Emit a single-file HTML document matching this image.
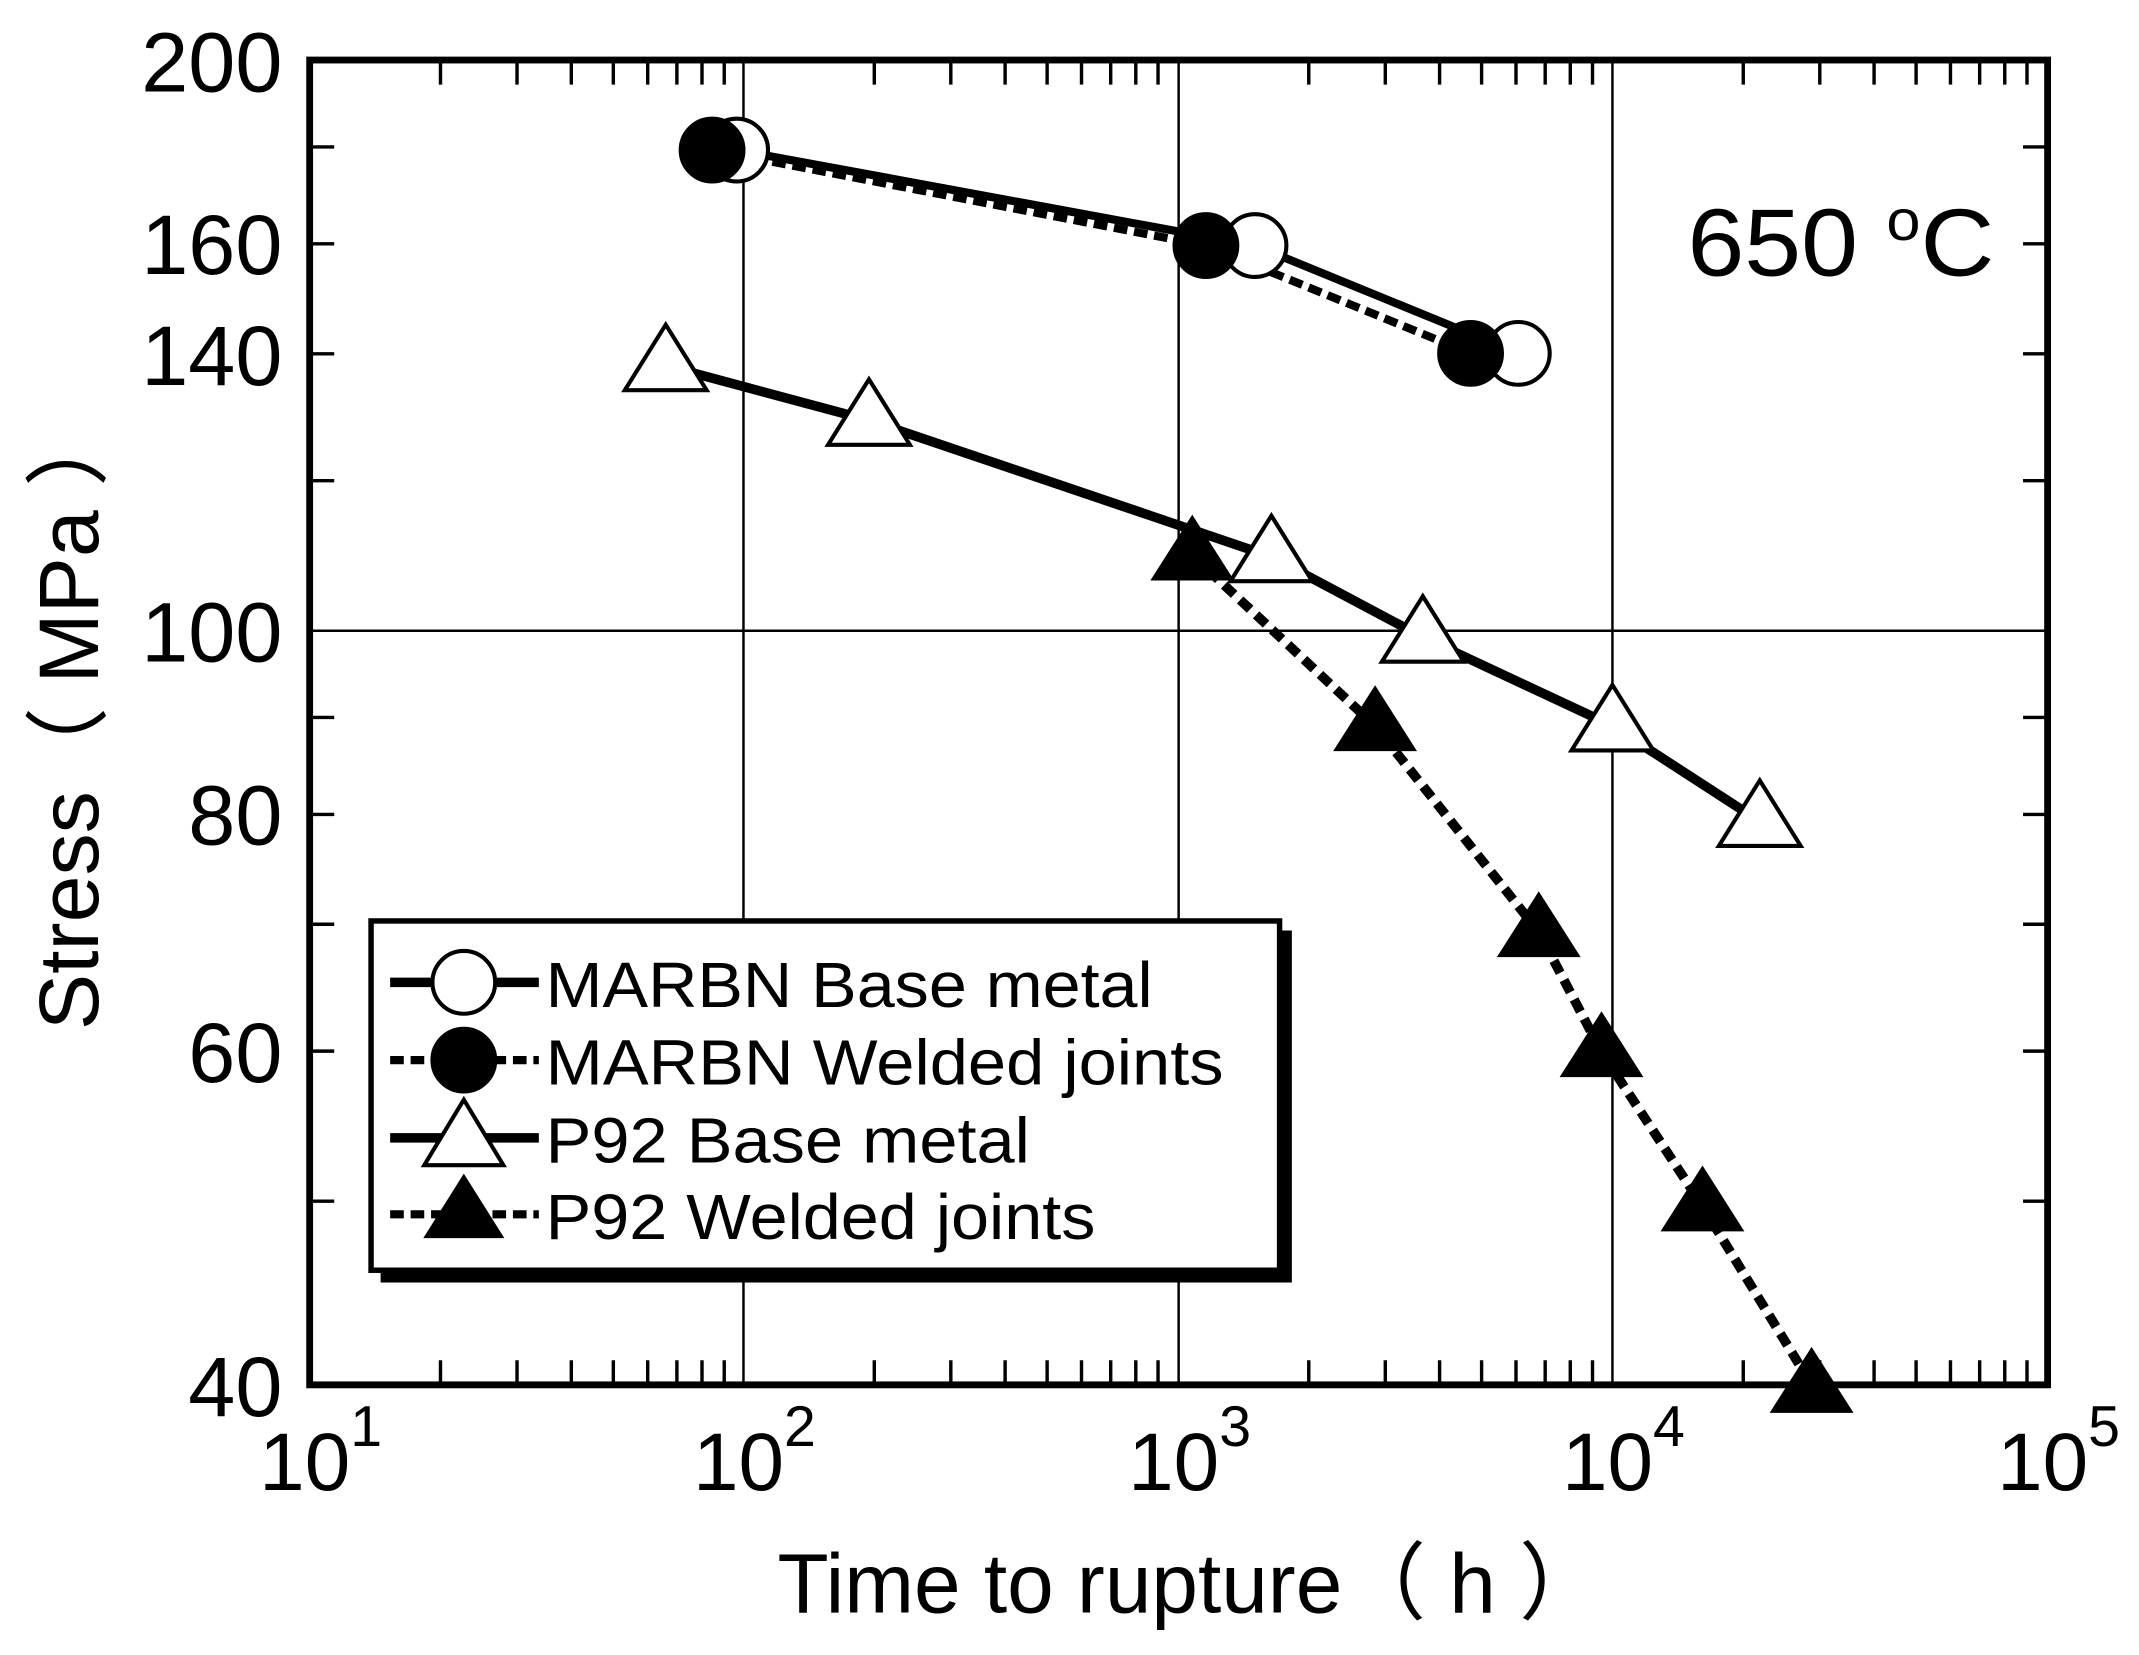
<!DOCTYPE html>
<html><head><meta charset="utf-8"><style>html,body{margin:0;padding:0;background:#fff;}svg{display:block}</style></head>
<body>
<svg width="2139" height="1655" viewBox="0 0 1568 1213" preserveAspectRatio="none" xmlns="http://www.w3.org/2000/svg" font-family="Liberation Sans, Arial, sans-serif">
<rect width="1568" height="1213" fill="#fff"/>
<g stroke="#000" stroke-width="1.8">
<line x1="545" y1="44" x2="545" y2="1015"/>
<line x1="864" y1="44" x2="864" y2="1015"/>
<line x1="1182" y1="44" x2="1182" y2="1015"/>
<line x1="227" y1="462.3" x2="1501" y2="462.3"/>
</g>
<g stroke="#000" stroke-width="2.5">
<path d="M322.9 1015v-18M379 1015v-18M418.8 1015v-18M449.6 1015v-18M474.8 1015v-18M496.2 1015v-18M514.6 1015v-18M530.9 1015v-18
M640.9 1015v-18M697 1015v-18M736.8 1015v-18M767.6 1015v-18M792.8 1015v-18M814.2 1015v-18M832.6 1015v-18M848.9 1015v-18
M959.4 1015v-18M1015.5 1015v-18M1055.3 1015v-18M1086.1 1015v-18M1111.3 1015v-18M1132.7 1015v-18M1151.1 1015v-18M1167.4 1015v-18
M1277.9 1015v-18M1334 1015v-18M1373.8 1015v-18M1404.6 1015v-18M1429.8 1015v-18M1451.2 1015v-18M1469.6 1015v-18M1485.9 1015v-18
M322.9 44v18M379 44v18M418.8 44v18M449.6 44v18M474.8 44v18M496.2 44v18M514.6 44v18M530.9 44v18
M640.9 44v18M697 44v18M736.8 44v18M767.6 44v18M792.8 44v18M814.2 44v18M832.6 44v18M848.9 44v18
M959.4 44v18M1015.5 44v18M1055.3 44v18M1086.1 44v18M1111.3 44v18M1132.7 44v18M1151.1 44v18M1167.4 44v18
M1277.9 44v18M1334 44v18M1373.8 44v18M1404.6 44v18M1429.8 44v18M1451.2 44v18M1469.6 44v18M1485.9 44v18"/>
<path d="M227 880.4h18M227 770.4h18M227 677.4h18M227 596.9h18M227 525.8h18M227 352.3h18M227 259.3h18M227 178.7h18M227 107.7h18
M1501 880.4h-18M1501 770.4h-18M1501 677.4h-18M1501 596.9h-18M1501 525.8h-18M1501 352.3h-18M1501 259.3h-18M1501 178.7h-18M1501 107.7h-18"/>
</g>
<rect x="227" y="44" width="1274" height="971" fill="none" stroke="#000" stroke-width="5"/>
<g font-size="62" text-anchor="end" fill="#000">
<text x="207" y="67">200</text>
<text x="207" y="201">160</text>
<text x="207" y="282">140</text>
<text x="207" y="485">100</text>
<text x="207" y="619">80</text>
<text x="207" y="793">60</text>
<text x="207" y="1038">40</text>
</g>
<g font-size="60" fill="#000">
<text x="190" y="1092">10<tspan font-size="42" dy="-32">1</tspan></text>
<text x="508" y="1092">10<tspan font-size="42" dy="-32">2</tspan></text>
<text x="827" y="1092">10<tspan font-size="42" dy="-32">3</tspan></text>
<text x="1145" y="1092">10<tspan font-size="42" dy="-32">4</tspan></text>
<text x="1464" y="1092">10<tspan font-size="42" dy="-32">5</tspan></text>
</g>
<text x="570" y="1182" font-size="62" textLength="605" lengthAdjust="spacingAndGlyphs">Time to rupture（ h ）</text>
<text transform="translate(72,755) rotate(-90)" font-size="62" textLength="460" lengthAdjust="spacingAndGlyphs">Stress（ MPa ）</text>
<text x="1237" y="202" font-size="70" textLength="225" lengthAdjust="spacingAndGlyphs">650 <tspan font-size="42" dy="-26">o</tspan><tspan dy="26">C</tspan></text>
<polyline points="540,110 920,180 1113,259" fill="none" stroke="#000" stroke-width="6"/>
<polyline points="522,110 884,180 1078,259" fill="none" stroke="#000" stroke-width="6" stroke-dasharray="10,5"/>
<polyline points="488,268 637,308 932,408 1043,467 1182,532 1290,602" fill="none" stroke="#000" stroke-width="7"/>
<polyline points="874,407 1008,532 1128,683 1174,771 1248,884 1328,1015" fill="none" stroke="#000" stroke-width="7" stroke-dasharray="10,6"/>
<g stroke="#000" stroke-width="3">
<circle cx="540" cy="110" r="23" fill="#fff"/><circle cx="920" cy="180" r="23" fill="#fff"/><circle cx="1113" cy="259" r="23" fill="#fff"/>
<circle cx="522" cy="110" r="23" fill="#000"/><circle cx="884" cy="180" r="23" fill="#000"/><circle cx="1078" cy="259" r="23" fill="#000"/>
</g>
<g stroke="#000" stroke-width="3" fill="#fff">
<path d="M488 238l30 48h-60z"/><path d="M637 278l30 48h-60z"/><path d="M932 378l30 48h-60z"/><path d="M1043 437l30 48h-60z"/><path d="M1182 502l30 48h-60z"/><path d="M1290 572l30 48h-60z"/>
</g>
<g stroke="#000" stroke-width="3" fill="#000">
<path d="M874 380l28 44h-56z"/><path d="M1008 505l28 44h-56z"/><path d="M1128 656l28 44h-56z"/><path d="M1174 744l28 44h-56z"/><path d="M1248 857l28 44h-56z"/><path d="M1328 990l28 44h-56z"/>
</g>
<rect x="279" y="682" width="668" height="258" fill="#000"/>
<rect x="272" y="675" width="666" height="256" fill="#fff" stroke="#000" stroke-width="4"/>
<g stroke="#000">
<line x1="286" y1="720" x2="395" y2="720" stroke-width="7"/>
<circle cx="340" cy="720" r="23" fill="#fff" stroke-width="3"/>
<line x1="286" y1="777" x2="395" y2="777" stroke-width="6" stroke-dasharray="10,5"/>
<circle cx="340" cy="777" r="23" fill="#000" stroke-width="3"/>
<line x1="286" y1="834" x2="395" y2="834" stroke-width="7"/>
<path d="M340 806l29 48h-58z" fill="#fff" stroke-width="3"/>
<line x1="286" y1="890" x2="395" y2="890" stroke-width="6" stroke-dasharray="10,5"/>
<path d="M340 863l27 43h-54z" fill="#000" stroke-width="3"/>
</g>
<g font-size="47" fill="#000" lengthAdjust="spacingAndGlyphs">
<text x="400" y="738" textLength="445" lengthAdjust="spacingAndGlyphs">MARBN Base metal</text>
<text x="400" y="795" textLength="497" lengthAdjust="spacingAndGlyphs">MARBN Welded joints</text>
<text x="400" y="852" textLength="355" lengthAdjust="spacingAndGlyphs">P92 Base metal</text>
<text x="400" y="908" textLength="403" lengthAdjust="spacingAndGlyphs">P92 Welded joints</text>
</g>
</svg>
</body></html>
